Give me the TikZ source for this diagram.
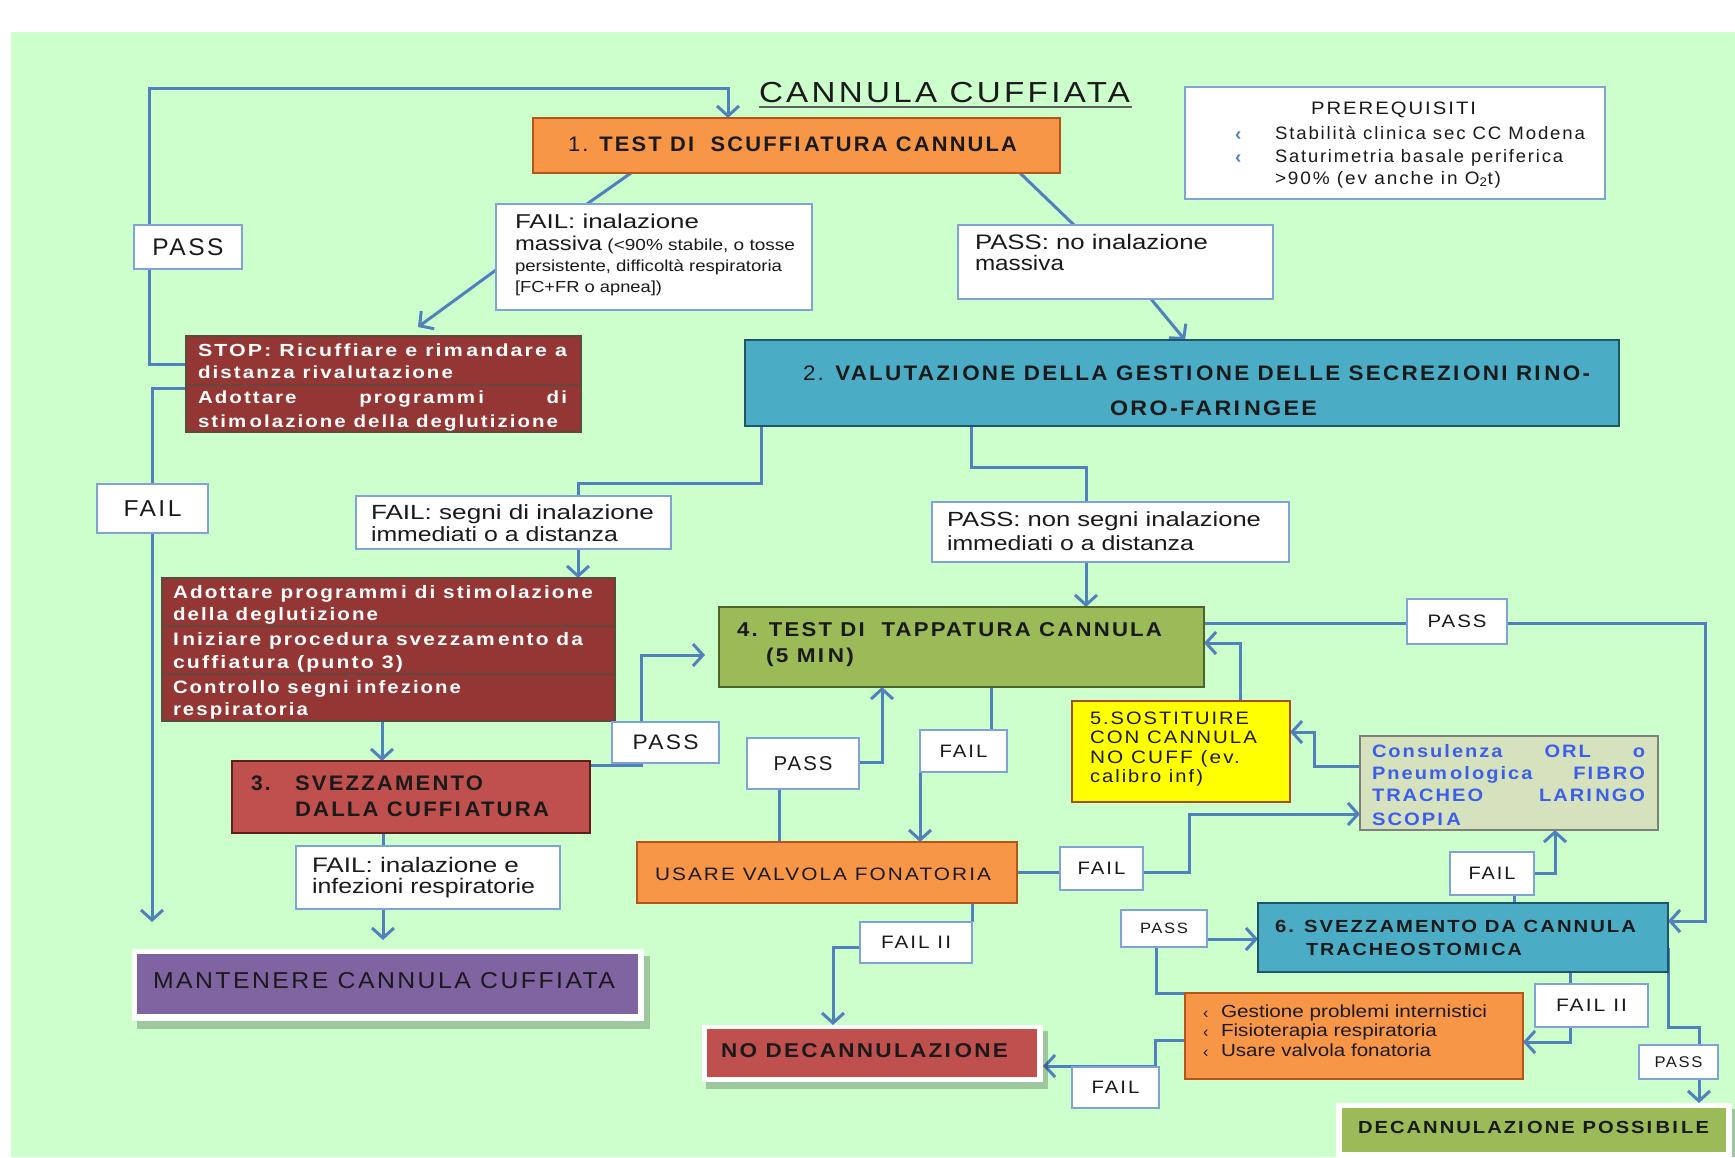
\documentclass[tikz,border=0pt]{standalone}
\usepackage{fontspec}
\setmainfont{Liberation Sans}
\newfontfamily\fS{Liberation Sans}[LetterSpace=10]
\newfontfamily\fN{Liberation Sans}
\usepackage{graphicx}
\usetikzlibrary{arrows.meta}
\pgfdeclarelayer{back}
\pgfdeclarelayer{mid}
\pgfsetlayers{back,mid,main}
\definecolor{bggreen}{HTML}{CCFFCC}
\definecolor{cblue}{HTML}{4F81BD}
\definecolor{lblue}{HTML}{7FA3D6}
\definecolor{corange}{HTML}{F79646}
\definecolor{corangeb}{HTML}{B4561A}
\definecolor{cstop}{HTML}{943634}
\definecolor{cstopb}{HTML}{5A4A40}
\definecolor{cteal}{HTML}{4BACC6}
\definecolor{ctealb}{HTML}{1F5567}
\definecolor{cred}{HTML}{C0504D}
\definecolor{credb}{HTML}{5E1E1C}
\definecolor{colive}{HTML}{9BBB59}
\definecolor{coliveb}{HTML}{4F6228}
\definecolor{cyellow}{HTML}{FFFF00}
\definecolor{cyellowb}{HTML}{A5501A}
\definecolor{ccons}{HTML}{D6E2BE}
\definecolor{cconsb}{HTML}{7F7F7F}
\definecolor{cconst}{HTML}{3B5FEB}
\definecolor{cpurple}{HTML}{8064A2}
\definecolor{ctext}{HTML}{1A1A1A}
\newcommand\fitw[2]{\resizebox{#1pt}{\height}{#2}}
\newcommand\fz[1]{\fontsize{#1}{#1}\selectfont}
\newcommand\bx[6]{\node[#1, minimum width={(#5-#3)*1pt}, minimum height={(#6-#4)*1pt}] (#2) at ({(#3+#5)/2},{(#4+#6)/2}) {};}
\newcommand\lab[8]{\node[lab, minimum width={(#4-#2)*1pt}, minimum height={(#5-#3)*1pt}] (#1) at ({(#2+#4)/2},{(#3+#5)/2}) {\fS\fz{#6}\fitw{#7}{#8}};}
\newcommand\tx[5]{\node[txt,#1] (#2) at (#3,#4) {#5};}
\tikzset{
  txt/.style={anchor=base west, inner sep=0pt, outer sep=0pt, text=ctext},
  lab/.style={draw=lblue, fill=white, line width=2pt, inner sep=0pt, outer sep=0pt, text=ctext},
  cbox/.style={line width=2.5pt, inner sep=0pt, outer sep=0pt},
  plain/.style={inner sep=0pt, outer sep=0pt},
  conn/.style={draw=cblue, line width=3pt},
  arr/.style={conn, -{Straight Barb[length=10pt,width=22pt]}},
  divline/.style={draw=cstopb!80!cstop, line width=2pt},
  shadow/.style={fill=black, opacity=0.22}
}
\begin{document}
\begin{tikzpicture}[x=1pt,y=-1pt]
\useasboundingbox (0,0) rectangle (1735,1157);
\begin{pgfonlayer}{back}
  \fill[white] (0,0) rectangle (1735,1157);
  \fill[bggreen] (11,32) rectangle (1735,1157);
\end{pgfonlayer}

% ---------- title
\tx{}{ttitle}{759}{102}{\fS\fz{29}\fitw{371}{CANNULA CUFFIATA}}
\draw[ctext!70, line width=1.5pt] ([yshift=-5pt]ttitle.base west) -- ([yshift=-5pt,xshift=2pt]ttitle.base east);

% ---------- box 1
\bx{cbox, fill=corange, draw=corangeb}{b1}{533}{118}{1060}{173}
\tx{}{t1}{568}{151}{\fz{21}\fitw{449}{\fS 1. \bfseries TEST DI\ \ SCUFFI\,ATURA CANNULA}}

% ---------- prerequisiti
\bx{lab}{pre}{1185}{87}{1605}{199}
\tx{}{tpre}{1311}{114}{\fS\fz{18}\fitw{165}{PREREQUISITI}}
\tx{text=cblue}{bul1}{1235}{140}{\fz{19}\bfseries ‹}
\tx{text=cblue}{bul2}{1235}{163}{\fz{19}\bfseries ‹}
\tx{}{tpre1}{1275}{139}{\fS\fz{18}\fitw{310}{Stabilità clinica sec CC Modena}}
\tx{}{tpre2}{1275}{162}{\fS\fz{18}\fitw{288}{Saturimetria basale periferica}}
\tx{}{tpre3}{1275}{184}{\fS\fz{18}\fitw{226}{>90\% (ev anche in O\textsubscript{2}t)}}

% ---------- FAIL inalazione massiva
\bx{lab}{fm}{496}{204}{812}{310}
\tx{}{tfm1}{515}{228}{\fz{20}\fitw{184}{FAIL: inalazione}}
\tx{}{tfm2}{515}{250}{\fitw{280}{\fz{20}massiva\fz{16} (<90\% stabile, o tosse}}
\tx{}{tfm3}{515}{271}{\fz{16}\fitw{267}{persistente, difficoltà respiratoria}}
\tx{}{tfm4}{515}{292}{\fz{16}\fitw{147}{[FC+FR o apnea])}}

% ---------- PASS no inalazione
\bx{lab}{pn}{958}{225}{1273}{299}
\tx{}{tpn1}{975}{249}{\fz{21}\fitw{233}{PASS: no inalazione}}
\tx{}{tpn2}{975}{270}{\fz{21}\fitw{89}{massiva}}

% ---------- labels PASS / FAIL left
\lab{lpass1}{134}{225}{242}{269}{24}{71}{PASS}
\lab{lfail1}{97}{484}{208}{533}{23}{58}{FAIL}

% ---------- STOP box
\bx{cbox, fill=cstop, draw=cstopb, line width=2pt}{stop}{186}{336}{581}{432}
\draw[divline] (stop.west |- 0,385) -- (stop.east |- 0,385);
\tx{text=white}{ts1}{198}{356}{\fS\fz{17.5}\bfseries\fitw{369}{STOP: Ricuffiare e rim\,andare a}}
\tx{text=white}{ts2}{198}{378}{\fS\fz{17.5}\bfseries\fitw{255}{distanza rivalutazione}}
\tx{text=white}{ts3}{198}{403}{\fS\fz{17.5}\bfseries\fitw{369}{\makebox[315pt][s]{Adottare programm\,i di}}}
\tx{text=white}{ts4}{198}{427}{\fS\fz{17.5}\bfseries\fitw{360}{stim\,olazione della deglutizione}}

% ---------- box 2
\bx{cbox, fill=cteal, draw=ctealb}{b2}{745}{340}{1619}{426}
\tx{}{t2a}{803}{380}{\fz{21}\fitw{787}{\fS 2. \bfseries VALUTAZI\,ONE DELLA GESTI\,ONE DELLE SECREZI\,ONI RI\,NO-}}
\tx{}{t2b}{1110}{415}{\fz{21}\fitw{207}{\fS\bfseries ORO-FARI\,NGEE}}

% ---------- FAIL segni / PASS non segni
\bx{lab}{fs}{356}{496}{671}{549}
\tx{}{tfs1}{371}{519}{\fz{20.5}\fitw{283}{FAIL: segni di inalazione}}
\tx{}{tfs2}{371}{541}{\fz{20.5}\fitw{247}{immediati o a distanza}}
\bx{lab}{ps}{932}{502}{1289}{562}
\tx{}{tps1}{947}{526}{\fz{20.5}\fitw{314}{PASS: non segni inalazione}}
\tx{}{tps2}{947}{550}{\fz{20.5}\fitw{247}{immediati o a distanza}}

% ---------- brown box
\bx{cbox, fill=cstop, draw=cstopb, line width=2pt}{brown}{162}{578}{615}{721}
\draw[divline] (brown.west |- 0,626) -- (brown.east |- 0,626);
\draw[divline] (brown.west |- 0,674) -- (brown.east |- 0,674);
\tx{text=white}{tb1}{173}{598}{\fS\fz{18}\bfseries\fitw{420}{Adottare programm\,i di stim\,olazione}}
\tx{text=white}{tb2}{173}{620}{\fS\fz{18}\bfseries\fitw{205}{della deglutizione}}
\tx{text=white}{tb3}{173}{645}{\fS\fz{18}\bfseries\fitw{410}{I\,niziare procedura svezzam\,ento da}}
\tx{text=white}{tb4}{173}{668}{\fS\fz{18}\bfseries\fitw{230}{cuffiatura (punto 3)}}
\tx{text=white}{tb5}{173}{693}{\fS\fz{18}\bfseries\fitw{288}{Controllo segni infezione}}
\tx{text=white}{tb6}{173}{715}{\fS\fz{18}\bfseries\fitw{135}{respiratoria}}

% ---------- box 3
\bx{cbox, fill=cred, draw=credb}{b3}{232}{761}{590}{833}
\tx{}{t3n}{251}{790}{\fS\fz{21}\bfseries 3.}
\tx{}{t3a}{295}{790}{\fS\fz{21}\bfseries\fitw{188}{SVEZZAMENTO}}
\tx{}{t3b}{295}{816}{\fS\fz{21}\bfseries\fitw{254}{DALLA CUFFI\,ATURA}}
\lab{lpass2}{612}{722}{719}{763}{21}{66}{PASS}

% ---------- FAIL inalazione e
\bx{lab}{fi}{296}{846}{560}{909}
\tx{}{tfi1}{312}{872}{\fz{21}\fitw{207}{FAIL: inalazione e}}
\tx{}{tfi2}{312}{893}{\fz{21}\fitw{223}{infezioni respiratorie}}

% ---------- MANTENERE
\fill[shadow] (137,956) rectangle (650,1029);
\bx{plain, fill=white}{mantf}{132}{949}{644}{1021}
\bx{plain, fill=cpurple}{mant}{137}{954}{638}{1014}
\tx{}{tmant}{153}{988}{\fS\fz{23}\fitw{462}{MANTENERE CANNULA CUFFIATA}}

% ---------- box 4
\bx{cbox, fill=colive, draw=coliveb}{b4}{719}{607}{1204}{687}
\tx{}{t4a}{737}{636}{\fS\fz{20}\bfseries\fitw{425}{4. TEST DI\ \ TAPPATURA CANNULA}}
\tx{}{t4b}{766}{662}{\fS\fz{20}\bfseries\fitw{88}{(5 MI\,N)}}
\lab{lpass3}{747}{738}{859}{789}{20}{59}{PASS}
\lab{lfail2}{920}{730}{1007}{772}{18}{48}{FAIL}

% ---------- box 5
\bx{cbox, fill=cyellow, draw=cyellowb}{b5}{1072}{701}{1290}{802}
\tx{}{t5a}{1090}{724}{\fS\fz{18}\fitw{159}{5.SOSTITUIRE}}
\tx{}{t5b}{1090}{743}{\fS\fz{18}\fitw{167}{CON CANNULA}}
\tx{}{t5c}{1090}{763}{\fS\fz{18}\fitw{150}{NO CUFF (ev.}}
\tx{}{t5d}{1090}{782}{\fS\fz{18}\fitw{113}{calibro inf)}}

% ---------- USARE VALVOLA
\bx{cbox, fill=corange, draw=corangeb}{usare}{637}{842}{1017}{903}
\tx{}{tus}{655}{880}{\fS\fz{18}\fitw{336}{USARE VALVOLA FONATORIA}}
\lab{lfail3}{1060}{847}{1143}{890}{18}{48}{FAIL}
\lab{lfail4}{860}{922}{972}{963}{18}{70}{FAIL II}
\lab{lpass4}{1407}{599}{1507}{644}{18}{59}{PASS}

% ---------- Consulenza
\bx{plain, fill=ccons, draw=cconsb, line width=2pt}{cons}{1360}{736}{1658}{830}
\tx{text=cconst}{tc1}{1372}{757}{\fS\fz{18}\bfseries\fitw{273}{\makebox[245pt][s]{Consulenza ORL o}}}
\tx{text=cconst}{tc2}{1372}{779}{\fS\fz{18}\bfseries\fitw{273}{\makebox[245pt][s]{Pneum\,ologica FI\,BRO}}}
\tx{text=cconst}{tc3}{1372}{801}{\fS\fz{18}\bfseries\fitw{273}{\makebox[245pt][s]{TRACHEO LARI\,NGO}}}
\tx{text=cconst}{tc4}{1372}{825}{\fS\fz{18}\bfseries\fitw{89}{SCOPI\,A}}
\lab{lfail5}{1450}{852}{1534}{895}{18}{47}{FAIL}
\lab{lpass5}{1121}{910}{1207}{947}{15}{48}{PASS}

% ---------- box 6
\bx{cbox, fill=cteal, draw=ctealb}{b6}{1258}{903}{1668}{972}
\tx{}{t6a}{1275}{932}{\fS\fz{17.5}\bfseries\fitw{361}{6. SVEZZAMENTO DA CANNULA}}
\tx{}{t6b}{1306}{955}{\fS\fz{17.5}\bfseries\fitw{216}{TRACHEOSTOMI\,CA}}

% ---------- orange 2
\bx{cbox, fill=corange, draw=corangeb}{or2}{1185}{993}{1523}{1079}
\tx{}{bo1}{1203}{1018}{\fz{16}‹}
\tx{}{bo2}{1203}{1037}{\fz{16}‹}
\tx{}{bo3}{1203}{1057}{\fz{16}‹}
\tx{}{to1}{1221}{1017}{\fz{17.5}\fitw{266}{Gestione problemi internistici}}
\tx{}{to2}{1221}{1036}{\fz{17.5}\fitw{216}{Fisioterapia respiratoria}}
\tx{}{to3}{1221}{1056}{\fz{17.5}\fitw{210}{Usare valvola fonatoria}}
\lab{lfail6}{1535}{984}{1648}{1027}{18}{71}{FAIL II}
\lab{lpass6}{1639}{1045}{1718}{1079}{15.5}{48}{PASS}
\lab{lfail7}{1072}{1067}{1159}{1108}{18}{48}{FAIL}

% ---------- NO DECANNULAZIONE
\fill[shadow] (706,1031) rectangle (1048,1089);
\bx{plain, fill=white}{nodf}{702}{1025}{1043}{1082}
\bx{plain, fill=cred}{nod}{707}{1029}{1037}{1077}
\tx{}{tnod}{721}{1057}{\fS\fz{20}\bfseries\fitw{287}{NO DECANNULAZI\,ONE}}

% ---------- DECANNULAZIONE POSSIBILE
\fill[shadow] (1340,1109) rectangle (1735,1157);
\bx{plain, fill=white}{dpf}{1336}{1103}{1732}{1160}
\bx{plain, fill=colive}{dp}{1342}{1108}{1726}{1152}
\tx{}{tdp}{1358}{1133}{\fS\fz{17.5}\bfseries\fitw{351}{DECANNULAZI\,ONE POSSI\,BI\,LE}}

% ---------- free ends / elbows
\coordinate (e3) at (418,327);
\coordinate (e6) at (152,922);
\coordinate (e12) at (705,655);
\coordinate (e13) at (383,940);
\coordinate (k1) at (149,88);
\coordinate (k2) at (728,88);

% ---------- connectors
\begin{pgfonlayer}{mid}
\draw[arr] (stop.west |- 0,364) -| (k1) -- (k2) -- (b1.north -| k2);
\draw[conn] (b1.south -| 631,0) -- (fm.north -| 587,0);
\draw[arr] (fm.west |- 0,270) -- (e3);
\draw[conn] (b1.south -| 1020,0) -- (pn.north -| 1074,0);
\draw[arr] (pn.south -| 1151,0) -- (b2.north -| 1185,0);
\draw[arr] (stop.west |- 0,388) -- (152,388) -- (e6);
\draw[conn] (b2.south -| 761,0) |- (578,483) -- (fs.north -| 578,0);
\draw[arr] (fs.south -| 578,0) -- (brown.north -| 578,0);
\draw[conn] (b2.south -| 971,0) |- (1086,467) -- (ps.north -| 1086,0);
\draw[arr] (ps.south -| 1086,0) -- (b4.north -| 1086,0);
\draw[arr] (brown.south -| 382,0) -- (b3.north -| 382,0);
\draw[arr] (b3.east |- 0,765) -- (641,765) |- (e12);
\draw[conn] (b3.south -| 383,0) -- (fi.north -| 383,0);
\draw[arr] (fi.south -| 383,0) -- (e13);
\draw[conn] (usare.north -| 779,0) -- (lpass3.south -| 779,0);
\draw[arr] (lpass3.east |- 0,762) -| (b4.south -| 882,0);
\draw[conn] (b4.south -| 991,0) -- (lfail2.north -| 991,0);
\draw[arr] (lfail2.west |- 0,760) -- (usare.north -| 920,0);
\draw[conn] (usare.east |- 0,872) -- (lfail3.west |- 0,872);
\draw[arr] (lfail3.east |- 0,872) -- (1189,872) |- (cons.west |- 0,814);
\draw[conn] (usare.south -| 972,0) -- (lfail4.north -| 972,0);
\draw[arr] (lfail4.west |- 0,947) -| (nodf.north -| 833,0);
\draw[conn] (b4.east |- 0,623) -- (lpass4.west |- 0,623);
\draw[arr] (lpass4.east |- 0,623) -| (1705,921) -- (b6.east |- 0,921);
\draw[arr] (b5.north -| 1240,0) |- (b4.east |- 0,643);
\draw[arr] (cons.west |- 0,766) -| (1314,732) -- (b5.east |- 0,732);
\draw[conn] (b6.north -| 1514,0) -- (lfail5.south -| 1514,0);
\draw[arr] (lfail5.east |- 0,873) -| (cons.south -| 1555,0);
\draw[conn] (or2.north west) -- (1156,993) -- (lpass5.south -| 1156,0);
\draw[arr] (lpass5.east |- 0,939) -- (b6.west |- 0,939);
\draw[conn] (b6.south -| 1570,0) -- (lfail6.north -| 1570,0);
\draw[arr] (lfail6.south -| 1570,0) |- (or2.east |- 0,1042);
\draw[conn] (b6.east |- 0,948) |- (1699,1027) -- (lpass6.north -| 1699,0);
\draw[arr] (lpass6.south -| 1699,0) -- (dpf.north -| 1699,0);
\draw[arr] (or2.west |- 0,1040) -- (1155,1040) |- (nodf.east |- 0,1066);
\end{pgfonlayer}
\end{tikzpicture}
\end{document}
